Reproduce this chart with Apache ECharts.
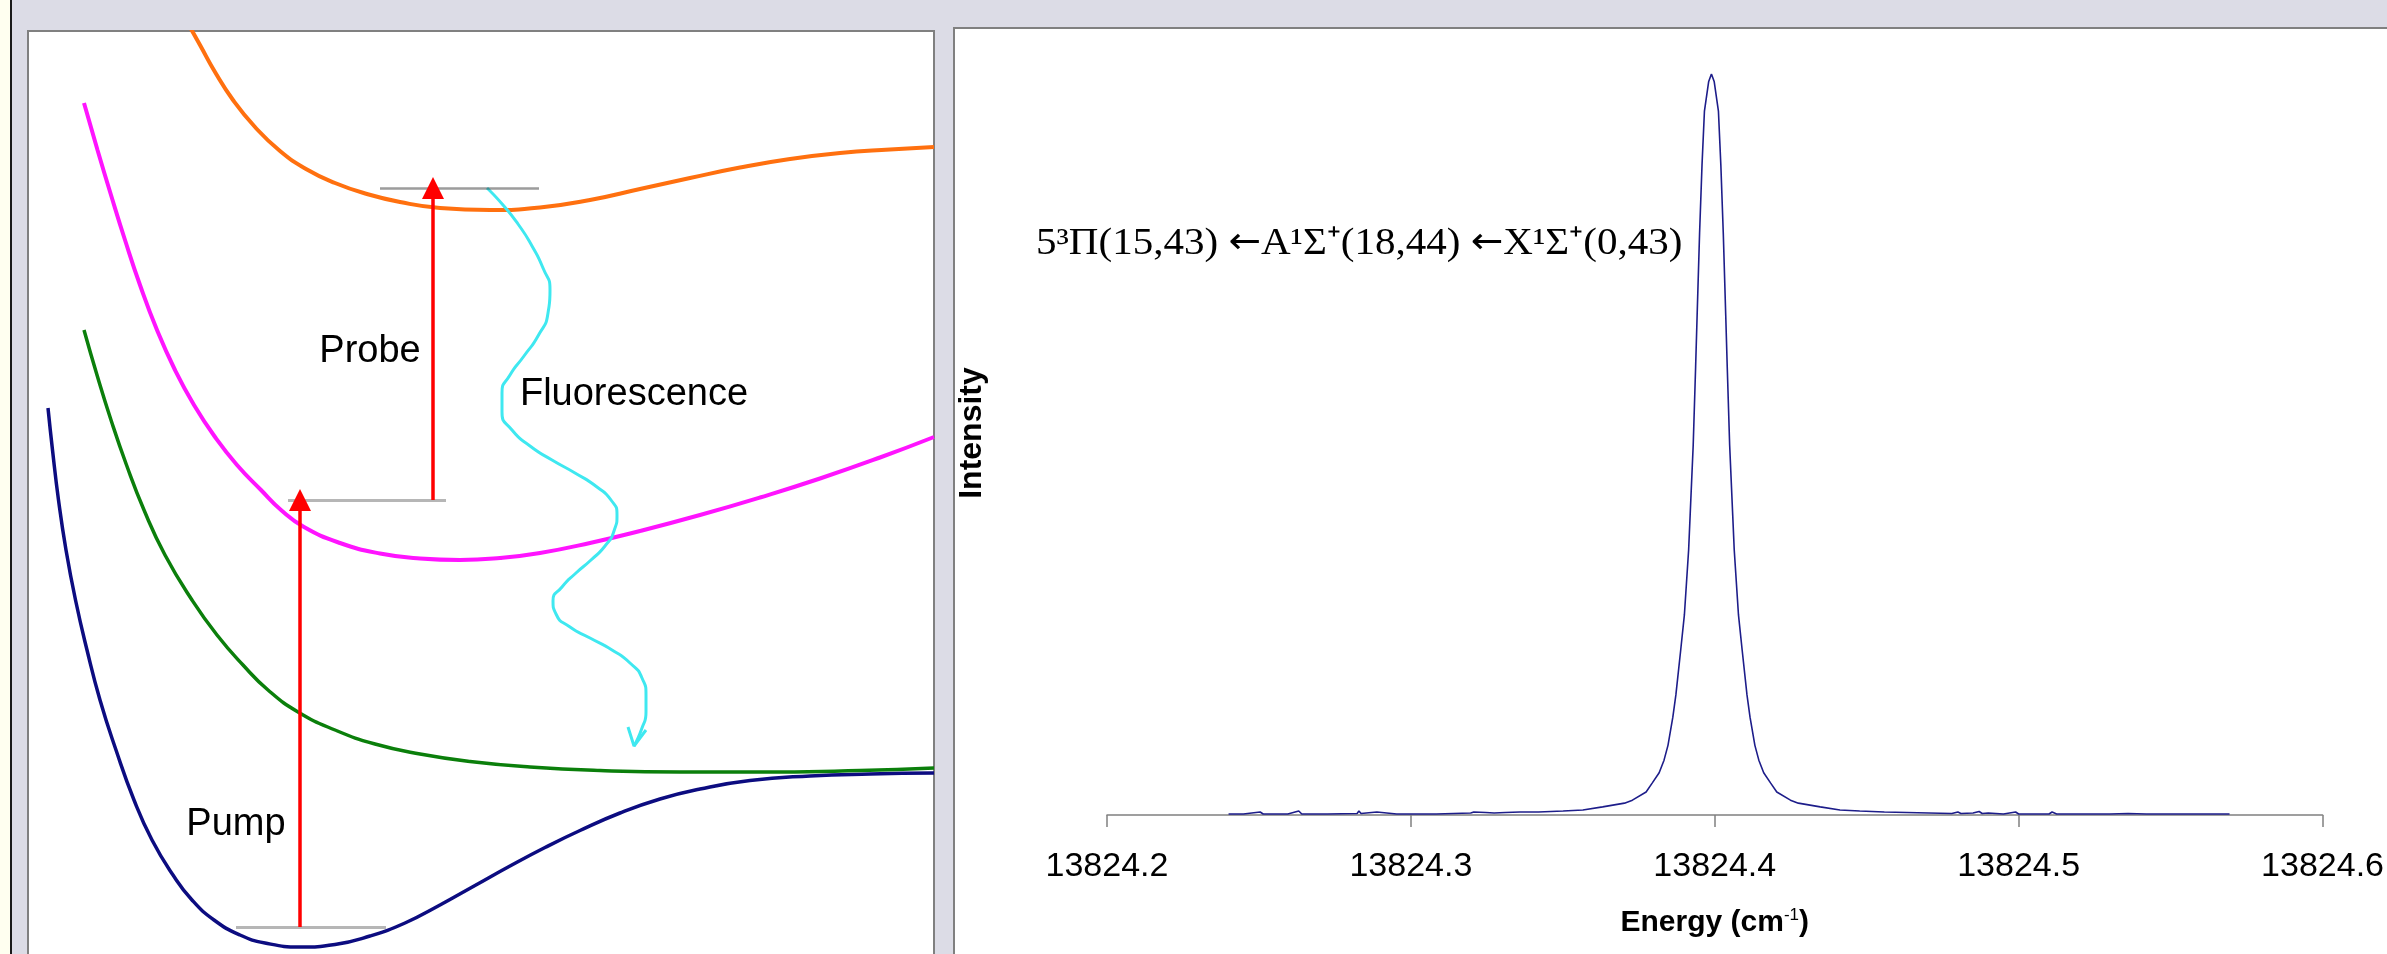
<!DOCTYPE html>
<html>
<head>
<meta charset="utf-8">
<script src="https://cdn.jsdelivr.net/npm/echarts@6/dist/echarts.min.js"></script>
<style>
html, body { margin: 0; padding: 0; background: #dcdce6; }
#chart { width: 2387px; height: 954px; }
</style>
</head>
<body>
<div id="chart"></div>
<script>

// ---- right panel: measured line profile ----
var energyTicks = [13824.2, 13824.3, 13824.4, 13824.5, 13824.6]
var specEnergy = [
  13824.2400, 13824.2449, 13824.2504, 13824.2514, 13824.2595, 13824.2631, 13824.2641, 13824.2725,
  13824.2823, 13824.2829, 13824.2836, 13824.2888, 13824.2894, 13824.2953, 13824.3083, 13824.3197,
  13824.3207, 13824.3246, 13824.3274, 13824.3311, 13824.3359, 13824.3420, 13824.3501, 13824.3566,
  13824.3631, 13824.3703, 13824.3729, 13824.3774, 13824.3794, 13824.3817, 13824.3833, 13824.3846,
  13824.3862, 13824.3872, 13824.3888, 13824.3900, 13824.3914, 13824.3919, 13824.3929, 13824.3937,
  13824.3942, 13824.3950, 13824.3958, 13824.3966, 13824.3980, 13824.3989, 13824.3998, 13824.4012,
  13824.4020, 13824.4028, 13824.4036, 13824.4041, 13824.4049, 13824.4059, 13824.4064, 13824.4078,
  13824.4090, 13824.4106, 13824.4116, 13824.4132, 13824.4145, 13824.4161, 13824.4184, 13824.4204,
  13824.4249, 13824.4275, 13824.4347, 13824.4412, 13824.4477, 13824.4558, 13824.4704, 13824.4780,
  13824.4800, 13824.4810, 13824.4850, 13824.4870, 13824.4880, 13824.4900, 13824.4950, 13824.4990,
  13824.5000, 13824.5050, 13824.5100, 13824.5110, 13824.5125, 13824.5160, 13824.5220, 13824.5300,
  13824.5360, 13824.5420, 13824.5500, 13824.5600, 13824.5694
]
var specIntensity = [
  0.0014, 0.0014, 0.0040, 0.0014, 0.0014, 0.0054, 0.0014, 0.0014,
  0.0020, 0.0054, 0.0020, 0.0040, 0.0014, 0.0014, 0.0014, 0.0027,
  0.0040, 0.0034, 0.0027, 0.0034, 0.0040, 0.0040, 0.0054, 0.0067,
  0.011, 0.016, 0.020, 0.031, 0.043, 0.057, 0.074, 0.094,
  0.132, 0.162, 0.223, 0.270, 0.358, 0.405, 0.499, 0.605,
  0.675, 0.785, 0.877, 0.950, 0.990, 1.000, 0.990, 0.950,
  0.877, 0.785, 0.675, 0.605, 0.499, 0.405, 0.358, 0.270,
  0.223, 0.162, 0.132, 0.094, 0.074, 0.057, 0.043, 0.031,
  0.020, 0.016, 0.011, 0.0067, 0.0054, 0.0040, 0.0027, 0.0020,
  0.0040, 0.0020, 0.0027, 0.0047, 0.0020, 0.0027, 0.0014, 0.0040,
  0.0014, 0.0014, 0.0014, 0.0040, 0.0014, 0.0014, 0.0014, 0.0014,
  0.0020, 0.0014, 0.0014, 0.0014, 0.0014
]

// ---- left panel: potential curves (R, E in arbitrary units) ----
var xStateR = [0.19, 0.235, 0.295, 0.37, 0.465, 0.58, 0.71, 0.87, 1.05, 1.23, 1.44, 1.63, 1.85, 2.11, 2.36, 2.71,
               3.06, 3.41, 3.76, 4.11, 4.46, 4.81, 5.16, 5.51, 5.91, 6.31, 6.71, 7.21, 7.81, 8.41, 9.05]
var xStateE = [5.46, 5.04, 4.54, 4.04, 3.54, 3.04, 2.54, 2.04, 1.54, 1.14, 0.79, 0.54, 0.34, 0.19, 0.11, 0.07,
               0.095, 0.18, 0.31, 0.49, 0.685, 0.88, 1.065, 1.235, 1.41, 1.55, 1.65, 1.735, 1.78, 1.80, 1.81]

var greenR = [0.55, 0.68, 0.82, 0.975, 1.15, 1.36, 1.63, 1.88, 2.14, 2.39, 2.69, 3.06, 3.46, 3.91, 4.41, 5.01, 5.71, 6.51, 7.51, 8.31, 9.05]
var greenE = [6.24, 5.79, 5.34, 4.89, 4.44, 3.99, 3.54, 3.19, 2.89, 2.64, 2.42, 2.24, 2.10, 2.00, 1.925, 1.87, 1.835, 1.82, 1.82, 1.835, 1.86]

var aStateR = [0.55, 0.685, 0.82, 0.96, 1.11, 1.28, 1.46, 1.65, 1.86, 2.08, 2.32, 2.52, 2.75, 3.11, 3.51, 3.91,
               4.31, 4.71, 5.11, 5.61, 6.11, 6.71, 7.31, 7.91, 8.51, 9.05]
var aStateE = [8.51, 8.04, 7.59, 7.14, 6.69, 6.24, 5.84, 5.49, 5.17, 4.89, 4.64, 4.44, 4.27, 4.11, 4.005, 3.955,
               3.94, 3.96, 4.01, 4.11, 4.23, 4.39, 4.565, 4.755, 4.965, 5.17]

var piStateR = [1.57, 1.71, 1.86, 2.04, 2.26, 2.51, 2.77, 3.06, 3.38, 3.71, 4.11, 4.61, 5.11, 5.61, 6.11, 6.61, 7.11, 7.61, 8.11, 8.61, 9.05]
var piStateE = [9.34, 9.09, 8.82, 8.54, 8.27, 8.03, 7.85, 7.71, 7.60, 7.52, 7.46, 7.44, 7.465, 7.54, 7.65, 7.76, 7.865, 7.95, 8.01, 8.045, 8.07]

// vibrational levels
var levelE = [7.66, 4.54, 0.27]
var levelRStart = [3.51, 2.59, 2.07]
var levelREnd = [5.10, 4.17, 3.57]

// pump / probe arrows
var arrowR = [2.71, 4.04]
var arrowFrom = [0.27, 4.54]
var arrowTo = [4.54, 7.66]

// fluorescence wiggle
var fluoR = [4.58, 4.74, 4.89, 5.03, 5.14, 5.21, 5.19, 5.09, 4.95, 4.81, 4.73, 4.73, 4.83, 5.01, 5.23, 5.46, 5.68, 5.82,
             5.88, 5.85, 5.76, 5.62, 5.47, 5.33, 5.24, 5.27, 5.41, 5.61, 5.83, 6.01, 6.13, 6.17, 6.17, 6.13, 6.05]
var fluoE = [7.66, 7.49, 7.30, 7.08, 6.86, 6.64, 6.41, 6.18, 5.98, 5.79, 5.61, 5.42, 5.24, 5.08, 4.94, 4.81, 4.67, 4.54,
             4.39, 4.23, 4.08, 3.94, 3.81, 3.67, 3.53, 3.40, 3.27, 3.16, 3.04, 2.91, 2.76, 2.59, 2.42, 2.26, 2.08]
var headR = [5.99, 6.05, 6.17]
var headE = [2.27, 2.08, 2.24]


function pairs(a, b){
    return a.map(function(v, i){ return [v, b[i]] })
}

function curve(r, e, color, width, smooth){
    return {
        type: 'line',
        xAxisIndex: 0,
        yAxisIndex: 0,
        data: pairs(r, e),
        smooth: smooth,
        showSymbol: false,
        symbol: 'none',
        silent: true,
        lineStyle: { color: color, width: width },
        z: 3
    }
}

var levelData = levelE.map(function(e, i){
    return {
        coords: [[levelRStart[i], e], [levelREnd[i], e]],
        lineStyle: { color: i == 0 ? '#3a3a3a' : '#6e6e6e', width: i == 0 ? 2.5 : 3 }
    }
})
var arrowData = arrowR.map(function(r, i){
    return { coords: [[r, arrowFrom[i]], [r, arrowTo[i]]] }
})

var chart = echarts.init(document.getElementById('chart'))

var sans = '"Liberation Sans", Arial, sans-serif'

var option = {
    animation: false,
    backgroundColor: '#dcdce6',
    graphic: [
        { type: 'rect', shape: { x: 0, y: 0, width: 10, height: 954 }, style: { fill: '#fffff0' } },
        { type: 'rect', shape: { x: 10, y: 0, width: 2, height: 954 }, style: { fill: '#1a1a1a' } },
        { type: 'rect', shape: { x: 28, y: 31, width: 906, height: 1000 }, style: { fill: '#ffffff', stroke: '#808080', lineWidth: 2 } },
        { type: 'rect', shape: { x: 954, y: 28, width: 1500, height: 1000 }, style: { fill: '#ffffff', stroke: '#808080', lineWidth: 2 } },
        { type: 'text', z: 10, style: { x: 370, y: 352, text: 'Probe', font: '38px ' + sans, fill: '#000', textAlign: 'center', textVerticalAlign: 'middle' } },
        { type: 'text', z: 10, style: { x: 634, y: 395, text: 'Fluorescence', font: '38px ' + sans, fill: '#000', textAlign: 'center', textVerticalAlign: 'middle' } },
        { type: 'text', z: 10, style: { x: 236, y: 825, text: 'Pump', font: '38px ' + sans, fill: '#000', textAlign: 'center', textVerticalAlign: 'middle' } },
        { type: 'text', z: 10, x: 1036, y: 244, scaleX: 1.08,
            style: {
                x: 0, y: 0,
                text: '{t|5\u00b3\u03a0(15,43) }{r|\u2190}{t|A\u00b9\u03a3\u207a(18,44) }{r|\u2190}{t|X\u00b9\u03a3\u207a(0,43)}',
                textAlign: 'left', textVerticalAlign: 'middle',
                rich: {
                    t: { fontFamily: '"Liberation Serif", "Times New Roman", serif', fontSize: 38, fill: '#000' },
                    r: { fontFamily: '"DejaVu Sans"', fontSize: 36, fill: '#000' }
                }
            } },
        { type: 'text', z: 10, x: 972, y: 433, rotation: Math.PI / 2,
            style: { x: 0, y: 0, text: 'Intensity', font: 'bold 32px ' + sans, fill: '#000', textAlign: 'center', textVerticalAlign: 'middle' } }
    ],
    grid: [
        { left: 29, top: 32, width: 905, height: 922 },
        { left: 1107, right: 50, top: 74, bottom: 139 }
    ],
    xAxis: [
        { gridIndex: 0, type: 'value', min: 0, max: 9.05, show: false },
        {
            gridIndex: 1,
            type: 'value',
            min: energyTicks[0],
            max: energyTicks[energyTicks.length - 1],
            interval: 0.1,
            axisLine: { show: true, lineStyle: { color: '#808080', width: 1.5 } },
            axisTick: { show: true, length: 12, lineStyle: { color: '#808080', width: 1.5 } },
            splitLine: { show: false },
            axisLabel: {
                color: '#000',
                fontFamily: 'Liberation Sans',
                fontSize: 34,
                margin: 35,
                formatter: function(v){ return v.toFixed(1) }
            },
            name: '{a|Energy (cm}{s|-1}{a|)}',
            nameLocation: 'middle',
            nameGap: 92,
            nameTextStyle: {
                rich: {
                    a: { fontFamily: 'Liberation Sans', fontWeight: 'bold', fontSize: 30, color: '#000' },
                    s: { fontFamily: 'Liberation Sans', fontSize: 17, color: '#000', verticalAlign: 'top', padding: [0, 0, 14, 0] }
                }
            }
        }
    ],
    yAxis: [
        { gridIndex: 0, type: 'value', min: 0, max: 9.22, show: false },
        { gridIndex: 1, type: 'value', min: 0, max: 1, show: false }
    ],
    series: [
        curve(xStateR, xStateE, '#0c0c80', 3.5, 0.5),
        curve(greenR, greenE, '#0b7f0b', 3.5, 0.5),
        curve(aStateR, aStateE, '#ff14ff', 4, 0.5),
        curve(piStateR, piStateE, '#ff700f', 4, 0.5),
        {
            type: 'lines',
            coordinateSystem: 'cartesian2d',
            xAxisIndex: 0,
            yAxisIndex: 0,
            silent: true,
            z: 4,
            data: levelData
        },
        {
            type: 'lines',
            coordinateSystem: 'cartesian2d',
            xAxisIndex: 0,
            yAxisIndex: 0,
            silent: true,
            z: 5,
            symbol: ['none', 'triangle'],
            symbolSize: 22,
            lineStyle: { color: '#ff0000', width: 3.5, opacity: 1 },
            data: arrowData
        },
        curve(fluoR, fluoE, '#3fe8f0', 3, 0.6),
        curve(headR, headE, '#3fe8f0', 3, false),
        {
            type: 'line',
            xAxisIndex: 1,
            yAxisIndex: 1,
            data: pairs(specEnergy, specIntensity),
            showSymbol: false,
            symbol: 'none',
            silent: true,
            lineStyle: { color: '#1d1d8a', width: 1.6 }
        }
    ]
}

chart.setOption(option)
</script>
</body>
</html>
